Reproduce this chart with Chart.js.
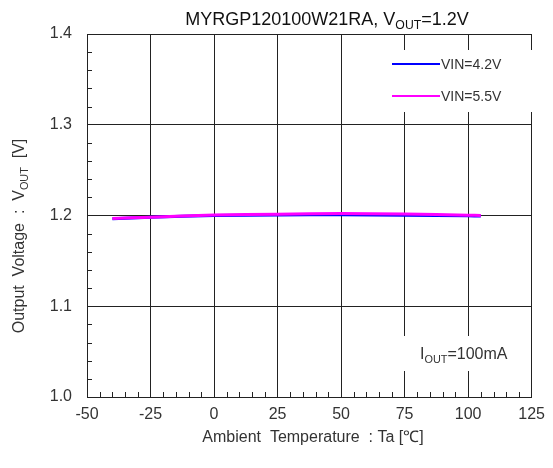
<!DOCTYPE html>
<html>
<head>
<meta charset="utf-8">
<script src="https://cdn.jsdelivr.net/npm/chart.js@4.4.0/dist/chart.umd.min.js"></script>
<style>
  html, body { margin: 0; padding: 0; background: #fff; }
</style>
</head>
<body>
<canvas id="myChart" width="553" height="468"></canvas>
<script>
// data
const temps = [-40, -25, 0, 25, 50, 75, 100, 105];
const vin42 = [1.1965, 1.198, 1.1999, 1.2006, 1.2007, 1.2003, 1.1996, 1.1994];
const vin55 = [1.1966, 1.1982, 1.2005, 1.2015, 1.2022, 1.2016, 1.2004, 1.2001];
const seriesNames = ['VIN=4.2V', 'VIN=5.5V'];
const seriesColors = ['#0000ff', '#ff00ff'];
const xTicks = [-50, -25, 0, 25, 50, 75, 100, 125];
const yTicks = [1.0, 1.1, 1.2, 1.3, 1.4];

const FONT = "'Liberation Sans', Arial, sans-serif";
const TEXT = '#333';

// draws text with a subscript part, parts = [[text, sub?], ...]
function drawParts(ctx, parts, x, y, size, align) {
    let widths = parts.map(p => {
        ctx.font = (p[1] ? size * 0.68 : size) + 'px ' + FONT;
        return ctx.measureText(p[0]).width;
    });
    let total = widths.reduce((a, b) => a + b, 0);
    let cx = align === 'center' ? x - total / 2 : x;
    ctx.textAlign = 'left';
    ctx.textBaseline = 'alphabetic';
    for (let i = 0; i < parts.length; i++) {
        let p = parts[i];
        ctx.font = (p[1] ? size * 0.68 : size) + 'px ' + FONT;
        ctx.fillText(p[0], cx, y + (p[1] ? size * 0.22 : 0));
        cx += widths[i];
    }
}

const extras = {
    id: 'extras',
    beforeDatasetsDraw(chart) {
        const ctx = chart.ctx;
        const xs = chart.scales.x, ys = chart.scales.y;
        const area = chart.chartArea;
        ctx.save();
        // minor ticks, inside the frame
        ctx.strokeStyle = '#222';
        ctx.lineWidth = 1;
        ctx.beginPath();
        for (let t = -45; t < 125; t += 5) {
            if (t % 25 === 0) continue;
            let px = Math.round(xs.getPixelForValue(t)) + 0.5;
            ctx.moveTo(px, area.bottom);
            ctx.lineTo(px, area.bottom - 5);
        }
        for (let k = 1; k < 20; k++) {
            if (k % 5 === 0) continue;
            let py = Math.round(ys.getPixelForValue(1.0 + k * 0.02)) + 0.5;
            ctx.moveTo(area.left, py);
            ctx.lineTo(area.left + 5, py);
        }
        ctx.stroke();
        // white boxes behind legend and note
        ctx.fillStyle = '#fff';
        ctx.fillRect(382, 50, 150, 62);
        ctx.fillRect(388, 336, 124, 35);
        ctx.restore();
    },
    afterDraw(chart) {
        const ctx = chart.ctx;
        ctx.save();
        ctx.fillStyle = TEXT;
        // legend
        for (let i = 0; i < seriesNames.length; i++) {
            let ly = 64 + i * 32;
            ctx.strokeStyle = seriesColors[i];
            ctx.lineWidth = 2;
            ctx.beginPath();
            ctx.moveTo(392, ly);
            ctx.lineTo(440, ly);
            ctx.stroke();
            ctx.font = '14px ' + FONT;
            ctx.textAlign = 'left';
            ctx.textBaseline = 'middle';
            ctx.fillText(seriesNames[i], 441, ly + 1);
        }
        // note
        drawParts(ctx, [['I'], ['OUT', 1], ['=100mA']], 420, 359, 16, 'left');
        // title
        ctx.fillStyle = '#111';
        drawParts(ctx, [['MYRGP120100W21RA, V'], ['OUT', 1], ['=1.2V']], 327, 25, 18, 'center');
        // y title
        ctx.fillStyle = TEXT;
        ctx.translate(24, 236);
        ctx.rotate(-Math.PI / 2);
        drawParts(ctx, [['Output  Voltage  :  V'], ['OUT', 1], ['  [V]']], 0, 0, 16, 'center');
        ctx.restore();
        // x title
        ctx.save();
        ctx.fillStyle = TEXT;
        ctx.font = '16px ' + FONT;
        ctx.textAlign = 'center';
        ctx.textBaseline = 'alphabetic';
        ctx.fillText('Ambient  Temperature  : Ta [\u2103]', 313, 442);
        ctx.restore();
    }
};

const ctx = document.getElementById('myChart');
const myChart = new Chart(ctx, {
    type: 'line',
    data: {
        datasets: [
            {
                label: seriesNames[0],
                data: temps.map((t, i) => ({x: t, y: vin42[i]})),
                borderColor: seriesColors[0],
                borderWidth: 3,
                pointRadius: 0,
                tension: 0.3,
                fill: false,
                order: 2
            },
            {
                label: seriesNames[1],
                data: temps.map((t, i) => ({x: t, y: vin55[i]})),
                borderColor: seriesColors[1],
                borderWidth: 3,
                pointRadius: 0,
                tension: 0.3,
                fill: false,
                order: 1
            }
        ]
    },
    options: {
        responsive: false,
        animation: false,
        devicePixelRatio: 1,
        layout: { padding: { top: 34, right: 18, left: 0, bottom: 0 } },
        plugins: {
            legend: { display: false },
            title: { display: false },
            tooltip: { enabled: false }
        },
        scales: {
            x: {
                type: 'linear',
                min: xTicks[0],
                max: xTicks[xTicks.length - 1],
                afterBuildTicks: (scale) => { scale.ticks = xTicks.map(v => ({value: v})); },
                afterFit: (scale) => { scale.height = 71; },
                ticks: { color: TEXT, font: { family: FONT, size: 16 }, padding: 8, maxRotation: 0 },
                grid: { color: '#222', lineWidth: 1, drawTicks: false },
                border: { color: '#222' }
            },
            y: {
                min: yTicks[0],
                max: yTicks[yTicks.length - 1],
                afterBuildTicks: (scale) => { scale.ticks = yTicks.map(v => ({value: v})); },
                afterFit: (scale) => { scale.width = 87; },
                ticks: {
                    color: TEXT,
                    font: { family: FONT, size: 16 },
                    padding: 15,
                    callback: (v) => Number(v).toFixed(1)
                },
                grid: { color: '#222', lineWidth: 1, drawTicks: false },
                border: { color: '#222' }
            }
        }
    },
    plugins: [extras]
});
</script>
</body>
</html>
